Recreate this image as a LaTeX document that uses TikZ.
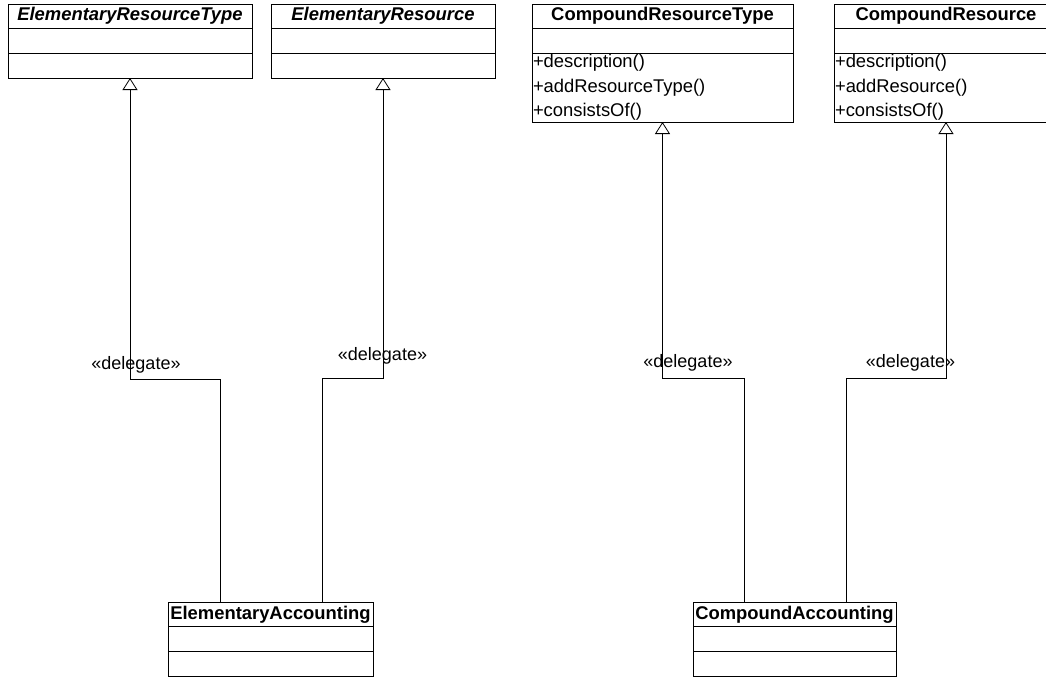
\documentclass[tikz,border=0pt]{standalone}
\usepackage{fontspec}
\setmainfont{Liberation Sans}
\usetikzlibrary{arrows.meta,positioning}

\begin{document}
\begin{tikzpicture}[>={Triangle[open,width=7.5pt,length=6pt]},x=0.5pt,y=0.5pt,
  classname/.style={draw,inner sep=0pt,outer sep=0pt,minimum height=12pt,font=\fontsize{9.2}{12.2}\selectfont\bfseries},
  compartment/.style={draw,inner sep=0pt,outer sep=0pt,minimum height=12.5pt},
  opslist/.style={draw,inner xsep=0.5pt,inner ysep=0pt,outer sep=0pt,minimum height=34.5pt,align=left,font=\fontsize{9.2}{12.2}\selectfont},
  stereo/.style={inner sep=0pt,font=\fontsize{9}{11}\selectfont},
  realize/.style={->,thin}]
  \useasboundingbox (0,0) rectangle (1046,-680);
  % classes: name row and attribute row
  \foreach \n/\cx/\cy/\w/\t in {ert/130/-16/122pt/\textit{ElementaryResourceType},er/383/-16/112pt/\textit{ElementaryResource},
      crt/662.5/-16/130.5pt/CompoundResourceType,cr/946/-16/112pt/CompoundResource,
      ea/270.5/-614.5/102.5pt/ElementaryAccounting,ca/794.5/-614.5/101.5pt/CompoundAccounting} {
    \node[classname,minimum width=\w] (\n) at (\cx,\cy) {\t};
    \node[compartment,minimum width=\w,below=0pt of \n] (\n-attr) {};}
  % operation rows
  \foreach \n/\w in {ert/122pt,er/112pt,ea/102.5pt,ca/101.5pt}
    \node[compartment,minimum width=\w,below=0pt of \n-attr] (\n-ops) {};
  \node[opslist,text width=129.5pt,below=0pt of crt-attr] (crt-ops) {+description()\\+addResourceType()\\+consistsOf()};
  \node[opslist,text width=111pt,below=0pt of cr-attr] (cr-ops) {+description()\\+addResource()\\+consistsOf()};
  % delegate connectors
  \coordinate (b1) at (130,-379); \coordinate (b2) at (383,-378);
  \coordinate (b3) at (662.5,-378); \coordinate (b4) at (946,-378);
  \draw[realize] ([xshift=26pt]ea.north west) |- (b1) -- (ert-ops.south);
  \draw[realize] ([xshift=77pt]ea.north west) |- (b2) -- (er-ops.south);
  \draw[realize] ([xshift=25.5pt]ca.north west) |- (b3) -- (crt-ops.south);
  \draw[realize] ([xshift=76.5pt]ca.north west) |- (b4) -- (cr-ops.south);
  \node[stereo] (d1) at (136,-365) {«delegate»};
  \node[stereo] (d2) at (382.5,-356) {«delegate»};
  \node[stereo] (d3) at (688,-363) {«delegate»};
  \node[stereo] (d4) at (910.5,-363) {«delegate»};
\end{tikzpicture}
\end{document}
